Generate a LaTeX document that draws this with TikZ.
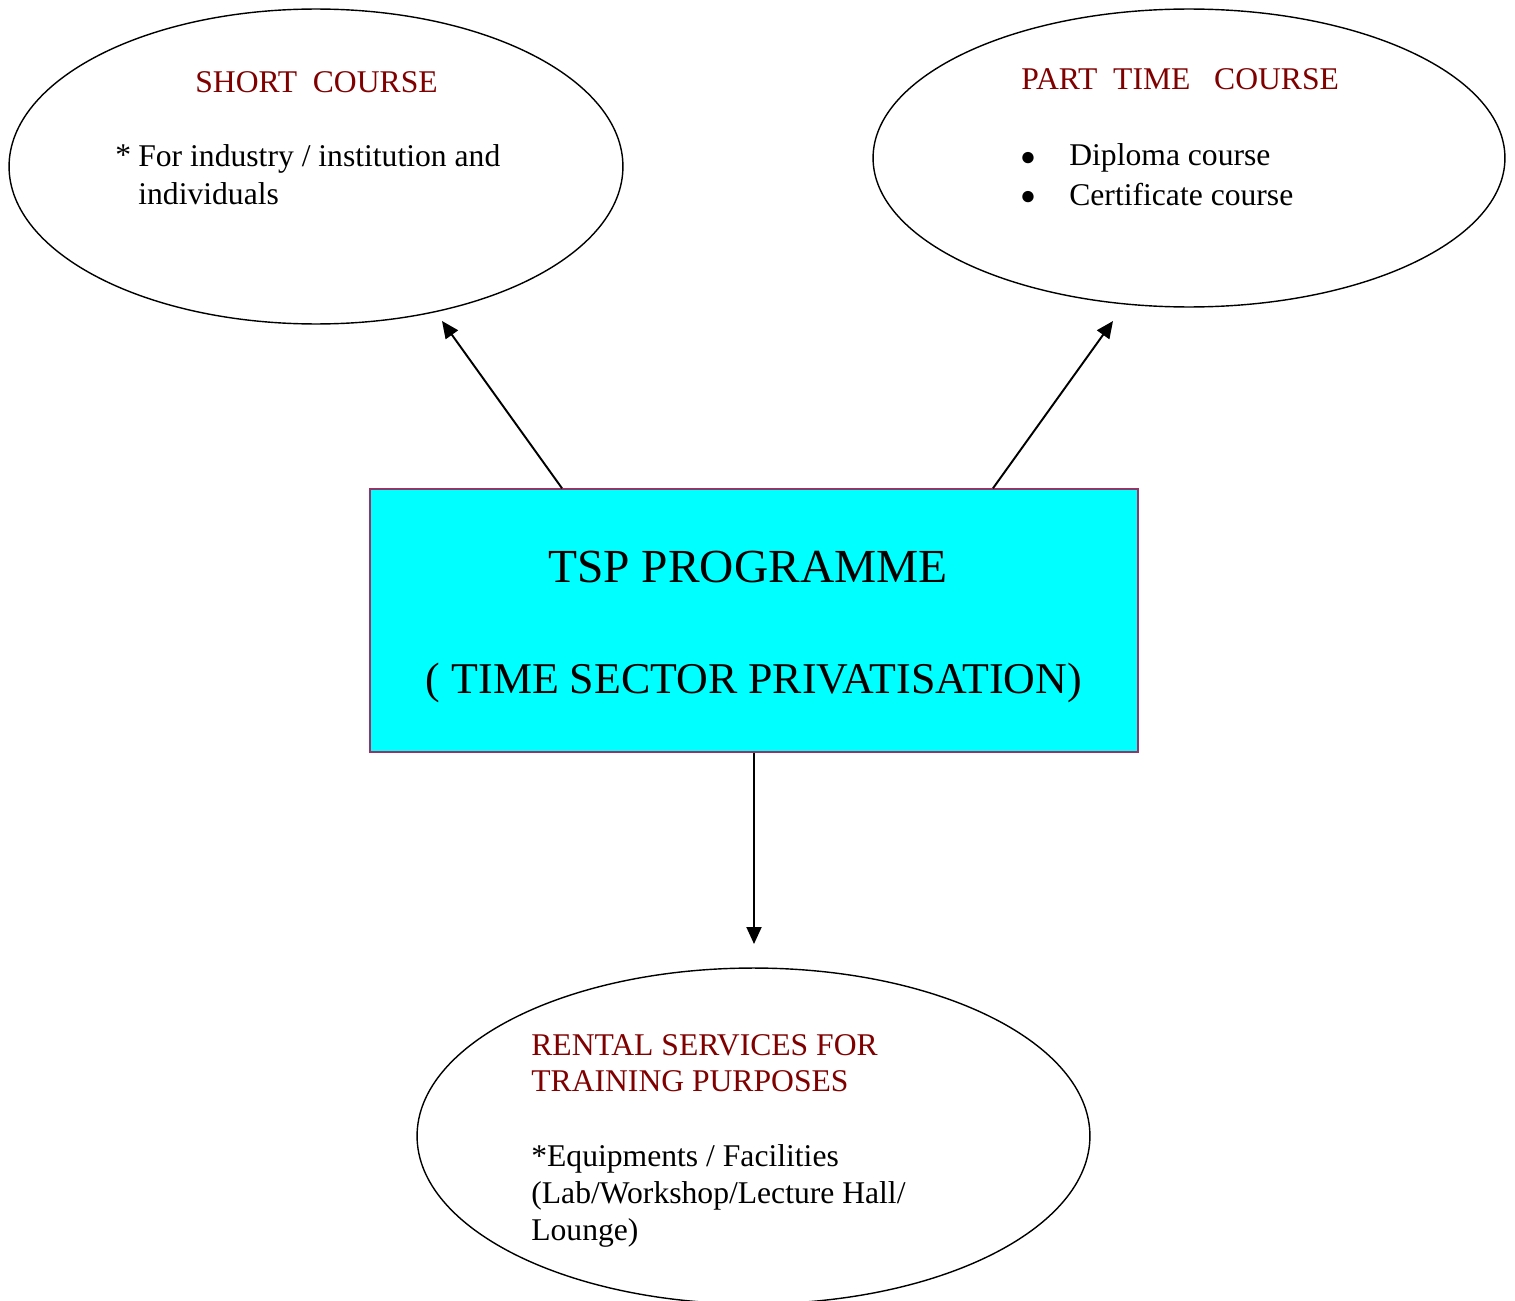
\documentclass[tikz,border=0pt]{standalone}
\usepackage{fontspec}
\setmainfont{Liberation Serif}
\usepackage{tikz}
\usetikzlibrary{shapes.geometric,arrows.meta}

\definecolor{titlered}{RGB}{128,0,0}
\definecolor{boxline}{RGB}{153,51,102}
\definecolor{tspcyan}{RGB}{0,255,255}

\tikzset{
  oval/.style={ellipse, draw, line width=0.8pt, inner sep=0pt},
  title/.style={anchor=base west, inner sep=0pt, text=titlered, font=\fontsize{18}{21.6}\selectfont},
  body/.style={anchor=base west, inner sep=0pt, font=\fontsize{18}{21.6}\selectfont},
  dots/.style={anchor=base, align=center, inner sep=0pt, font=\fontsize{15}{22.1}\selectfont},
  arr/.style={line width=1.1pt, -{Triangle[length=0.34cm, width=0.3cm]}}
}

\begin{document}
\begin{tikzpicture}[x=0.02cm, y=-0.02cm]
			\useasboundingbox (0,0) rectangle (1515,1301);
			\node[oval, minimum width=12.28cm, minimum height=6.3cm] (short) at (316,166.5) {};
			\node[oval, minimum width=12.64cm, minimum height=5.96cm] (part) at (1189,158) {};
			\node[oval, minimum width=13.46cm, minimum height=6.72cm] (rental) at (753.5,1136) {};
			\node[draw=boxline, fill=tspcyan, line width=0.8pt, minimum width=15.36cm, minimum height=5.26cm] (box) at (754,620.5) {};
			% texts
			\node[title] (shorttitle) at (195,92) {SHORT\ \ COURSE};
			\node[body] (shortstar) at (115,166) {*};
			\node[body, align=left] (shortbody) at (138,204) {For industry / institution and\\individuals};
			\node[title] (parttitle) at (1021,90) {PART\ \ TIME\ \ \ COURSE};
			\node[dots] (bullets) at (1028,204) {●\\●};
			\node[body] (diploma) at (1069,166) {Diploma course};
			\node[body] (certif) at (1069,205) {Certificate course};
			\node[body, anchor=base, font=\fontsize{27}{32}\selectfont] (tsp) at (748,582) {TSP PROGRAMME};
			\node[body, anchor=base, font=\fontsize{25}{30}\selectfont] (tspfull) at (754,693) {( TIME SECTOR PRIVATISATION)};
			\node[title, align=left, font=\fontsize{18}{20.4}\selectfont] (rentaltitle) at (531,1091) {RENTAL SERVICES FOR\\TRAINING PURPOSES};
			\node[body, align=left, font=\fontsize{18}{21}\selectfont] (rentalbody) at (531,1240) {*Equipments / Facilities\\(Lab/Workshop/Lecture Hall/\\Lounge)};
			% arrows
			\coordinate (shorttip) at (442,321);
			\coordinate (parttip) at (1113,321);
			\coordinate (rentaltip) at (754,944);
			\draw[arr] ([xshift=-3.84cm]box.north) -- (shorttip);
			\draw[arr] ([xshift=4.78cm]box.north) -- (parttip);
			\draw[arr] (box.south) -- (rentaltip);
		\end{tikzpicture}
\end{document}
